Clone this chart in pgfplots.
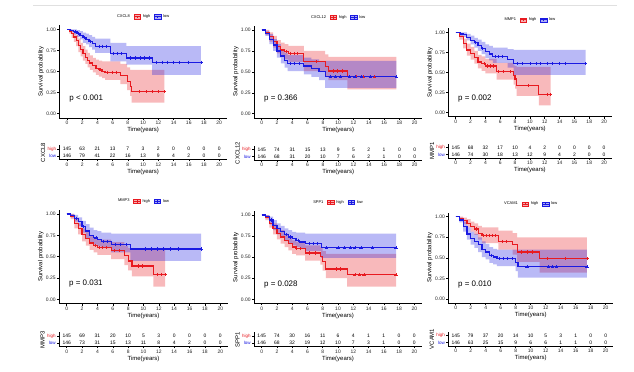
\documentclass[border=0pt]{standalone}
\usepackage{fontspec}
\setmainfont{Liberation Sans}
\usepackage{pgfplots}
\pgfplotsset{compat=1.18}
\usepackage{pgfplotstable}
\definecolor{kmred}{RGB}{232,26,32}
\definecolor{kmblue}{RGB}{26,26,226}
\newcommand\fs[1]{\fontsize{#1}{#1}\selectfont}
\tikzset{pval/.style={anchor=west, font=\fs{8}, inner sep=0pt}}

\pgfplotsset{
  base/.style={scale only axis, anchor=south west,
    xmin=-1, xmax=21, xtick={0,2,...,20},
    axis x line*=bottom, axis y line*=left,
    axis line style={-, black, line width=0.5bp},
    tick align=outside, major tick length=2bp, tick style={black, line width=0.5bp},
    /pgf/number format/assume math mode=true,
    ticklabel style={font=\fs{5}, text=black!85, inner sep=1.2bp},
    label style={font=\fs{6}, text=black},
    xlabel={Time(years)}, xlabel style={inner sep=1bp},
    ylabel style={inner sep=1bp}},
  km/.style={base, ymin=-0.05, ymax=1.05, ytick={0,0.25,0.5,0.75,1},
    yticklabel style={/pgf/number format/.cd, fixed, fixed zerofill, precision=2},
    ylabel={Survival probability},
    legend style={draw=none, fill=none, at={(0.5,1)}, anchor=south, yshift=4bp,
      legend columns=-1, font=\fs{4}, inner sep=0pt, cells={anchor=west},
      /tikz/every even column/.append style={column sep=1.5bp}}},
  rt/.style={base, height=14bp, ymin=0.5, ymax=2.5, ytick={1,2},
    yticklabels={\color{kmblue}low,\color{kmred}high},
    yticklabel style={font=\fs{4.5}}},
  rtnum/.style={only marks, mark=*, mark size=0pt, mark options={draw=none,fill=none},
    nodes near coords, point meta=explicit symbolic, forget plot,
    every node near coord/.append style={font=\fs{5}, anchor=center, text=black}},
  redkey/.style={legend image code/.code={
    \fill[kmred, fill opacity=0.35] (0bp,-2.2bp) rectangle (6.5bp,2.2bp);
    \draw[kmred, line width=0.9bp] (0bp,0bp) -- (6.5bp,0bp);
    \draw[kmred, line width=0.4bp] (3.25bp,-1.2bp) -- (3.25bp,1.2bp);}},
  bluekey/.style={legend image code/.code={
    \fill[kmblue, fill opacity=0.35] (0bp,-2.2bp) rectangle (6.5bp,2.2bp);
    \draw[kmblue, line width=0.9bp] (0bp,0bp) -- (6.5bp,0bp);
    \draw[kmblue, line width=0.4bp] (3.25bp,-1.2bp) -- (3.25bp,1.2bp);}}
}

% band: upper limit forward, lower limit backward (step polygon)
\newcommand\band[2]{\addplot[const plot, fill=#1, fill opacity=0.3, draw=none, forget plot] coordinates {#2};}
\newcommand\curve[2]{\addplot[const plot, #1, line width=1.2bp, forget plot] coordinates {#2};}
\newcommand\cens[2]{\addplot[only marks, mark=+, mark size=1.6bp, #1, line width=0.6bp, forget plot] coordinates {#2};}
\newcommand\kmlegend[1]{%
  \addlegendimage{empty legend}\addlegendentry{#1}
  \addlegendimage{redkey}\addlegendentry{high}
  \addlegendimage{bluekey}\addlegendentry{low}
}

\pgfplotstableread{
t h l
0 145 146
2 63 79
4 21 41
6 13 22
8 7 16
10 3 13
12 2 9
14 0 4
16 0 2
18 0 0
20 0 0
}\PaR
\pgfplotstableread{
t h l
0 145 146
2 74 68
4 31 31
6 15 20
8 13 10
10 9 7
12 5 6
14 2 2
16 1 1
18 0 0
20 0 0
}\PbR
\pgfplotstableread{
t h l
0 145 146
2 68 74
4 32 30
6 17 18
8 10 13
10 4 12
12 2 9
14 0 4
16 0 2
18 0 0
20 0 0
}\PcR
\pgfplotstableread{
t h l
0 145 146
2 69 73
4 31 31
6 20 15
8 10 13
10 5 11
12 3 8
14 0 4
16 0 2
18 0 0
20 0 0
}\PdR
\pgfplotstableread{
t h l
0 145 146
2 74 68
4 30 32
6 16 19
8 11 12
10 6 10
12 4 7
14 1 3
16 1 1
18 0 0
20 0 0
}\PeR
\pgfplotstableread{
t h l
0 145 146
2 79 63
4 37 25
6 20 15
8 14 9
10 10 6
12 5 6
14 3 1
16 1 1
18 0 0
20 0 0
}\PfR

\begin{document}
\begin{tikzpicture}
\path[use as bounding box] (0,0) rectangle (634bp,372bp);
\fill[white] (0,0) rectangle (634bp,372bp);
\draw[black!12, line width=0.8bp] (33bp,367bp) -- (617bp,367bp);

% ===== CXCL8 =====
\begin{axis}[km, at={(59.4bp,254.1bp)}, width=167.4bp, height=92.8bp]
\band{kmred}{(0,1)(0.3,1)(0.6,0.99)(0.9,0.96)(1.2,0.93)(1.5,0.89)(1.8,0.84)(2.1,0.80)(2.4,0.76)(2.7,0.72)(3.0,0.69)(3.4,0.66)(3.8,0.64)(4.2,0.63)(4.6,0.62)(5.0,0.62)(7.0,0.59)(7.9,0.55)(8.3,0.52)(8.5,0.52)(12.8,0.52)
 (12.8,0.13)(8.5,0.21)(8.3,0.28)(7.9,0.35)(7.0,0.40)(5.0,0.42)(4.6,0.44)(4.2,0.46)(3.8,0.49)(3.4,0.52)(3.0,0.55)(2.7,0.59)(2.4,0.63)(2.1,0.68)(1.8,0.73)(1.5,0.80)(1.2,0.85)(0.9,0.90)(0.6,0.95)(0.3,1)(0,1)}
\band{kmblue}{(0,1)(0.5,1)(0.9,1)(1.3,0.99)(1.7,0.98)(2.1,0.96)(2.5,0.95)(2.9,0.93)(3.3,0.91)(3.7,0.89)(5.7,0.84)(7.8,0.80)(11.2,0.80)(17.6,0.80)
 (17.6,0.46)(11.2,0.58)(7.8,0.62)(5.7,0.72)(3.7,0.76)(3.3,0.79)(2.9,0.82)(2.5,0.84)(2.1,0.88)(1.7,0.91)(1.3,0.94)(0.9,0.97)(0.5,1)(0,1)}
\curve{kmred}{(0,1)(0.3,0.98)(0.6,0.95)(0.9,0.91)(1.2,0.87)(1.5,0.81)(1.8,0.76)(2.1,0.71)(2.4,0.67)(2.7,0.63)(3.0,0.60)(3.4,0.57)(3.8,0.54)(4.2,0.52)(4.6,0.50)(5.0,0.49)(7.0,0.45)(7.9,0.38)(8.3,0.32)(8.5,0.26)(12.8,0.26)}
\curve{kmblue}{(0,1)(0.5,0.99)(0.9,0.97)(1.3,0.95)(1.7,0.93)(2.1,0.90)(2.5,0.88)(2.9,0.86)(3.3,0.83)(3.7,0.80)(5.7,0.71)(7.8,0.66)(11.2,0.61)(17.6,0.61)}
\cens{kmred}{(4.4,0.52)(5.3,0.49)(5.9,0.49)(6.5,0.49)(9.5,0.26)(10.4,0.26)(11.2,0.26)(12.0,0.26)(12.8,0.26)}
\cens{kmblue}{(1.1,0.97)(1.5,0.95)(2.3,0.90)(3.1,0.86)(4.2,0.80)(4.7,0.80)(5.2,0.80)(6.1,0.71)(6.6,0.71)(7.2,0.71)(8.3,0.66)(9.0,0.66)(9.6,0.66)(10.2,0.66)(10.8,0.66)(11.8,0.61)(12.5,0.61)(13.2,0.61)(14.0,0.61)(14.7,0.61)(16.0,0.61)(17.6,0.61)}
\kmlegend{CXCL8}
\node[pval] at (axis cs:0.3,0.18) {p < 0.001};
\end{axis}
\begin{axis}[rt, at={(59.4bp,212.5bp)}, width=167.4bp, ylabel={CXCL8}]
\addplot[rtnum] table[x=t, y expr=2, meta=h] {\PaR};
\addplot[rtnum] table[x=t, y expr=1, meta=l] {\PaR};
\end{axis}

% ===== CXCL12 =====
\begin{axis}[km, at={(254bp,254.1bp)}, width=168.4bp, height=92.1bp]
\band{kmred}{(0,1)(0.5,1)(1,0.97)(1.5,0.93)(2,0.88)(2.5,0.85)(3,0.83)(3.5,0.81)(5.5,0.75)(8.3,0.71)(8.7,0.68)(11.2,0.68)(17.6,0.68)
 (17.6,0.29)(11.2,0.40)(8.7,0.44)(8.3,0.51)(5.5,0.62)(3.5,0.65)(3,0.68)(2.5,0.72)(2,0.79)(1.5,0.86)(1,0.94)(0.5,1)(0,1)}
\band{kmblue}{(0,1)(0.5,0.99)(1,0.95)(1.5,0.89)(2,0.83)(2.5,0.77)(3,0.73)(3.4,0.70)(5.5,0.67)(6.5,0.65)(7.5,0.63)(8.3,0.63)(17.6,0.63)
 (17.6,0.31)(8.3,0.40)(7.5,0.44)(6.5,0.47)(5.5,0.51)(3.4,0.55)(3,0.60)(2.5,0.67)(2,0.75)(1.5,0.83)(1,0.93)(0.5,1)(0,1)}
\curve{kmred}{(0,1)(0.5,0.97)(1,0.92)(1.5,0.86)(2,0.80)(2.5,0.76)(3,0.74)(3.5,0.72)(5.5,0.62)(8.3,0.56)(8.7,0.51)(11.2,0.44)(17.6,0.44)}
\curve{kmblue}{(0,1)(0.5,0.96)(1,0.89)(1.5,0.82)(2,0.75)(2.5,0.69)(3,0.64)(3.4,0.60)(5.5,0.57)(6.5,0.54)(7.5,0.50)(8.3,0.44)(17.6,0.44)}
\cens{kmred}{(3.2,0.74)(3.8,0.72)(4.2,0.72)(4.7,0.72)(7.2,0.62)(9.3,0.51)(9.9,0.51)(10.5,0.51)(12.3,0.44)(13.3,0.44)(14.7,0.44)}
\cens{kmblue}{(3.8,0.60)(4.3,0.60)(4.9,0.60)(9.0,0.44)(9.6,0.44)(10.3,0.44)(11.5,0.44)(12.2,0.44)(13.0,0.44)(14.2,0.44)(17.6,0.44)}
\kmlegend{CXCL12}
\node[pval] at (axis cs:0.3,0.18) {p = 0.366};
\end{axis}
\begin{axis}[rt, at={(254bp,212bp)}, width=168.4bp, ylabel={CXCL12}]
\addplot[rtnum] table[x=t, y expr=2, meta=h] {\PbR};
\addplot[rtnum] table[x=t, y expr=1, meta=l] {\PbR};
\end{axis}

% ===== MMP1 =====
\begin{axis}[km, at={(448.3bp,255.3bp)}, width=163.2bp, height=88.4bp]
\band{kmred}{(0,1)(0.5,0.99)(1,0.92)(1.5,0.86)(2,0.82)(2.5,0.77)(3,0.72)(3.5,0.70)(4,0.67)(5.5,0.62)(7.8,0.59)(8,0.58)(8.2,0.57)(11.2,0.57)(12.8,0.57)
 (12.8,0.09)(11.2,0.21)(8.2,0.30)(8,0.35)(7.8,0.41)(5.5,0.49)(4,0.52)(3.5,0.55)(3,0.61)(2.5,0.66)(2,0.71)(1.5,0.80)(1,0.91)(0.5,1)(0,1)}
\band{kmblue}{(0,1)(0.6,1)(1,1)(1.5,0.98)(2,0.96)(2.5,0.93)(3,0.91)(3.5,0.88)(4,0.85)(4.5,0.83)(5,0.81)(7,0.79)(7.8,0.78)(17.5,0.78)
 (17.5,0.47)(7.8,0.56)(7,0.62)(5,0.65)(4.5,0.68)(4,0.73)(3.5,0.77)(3,0.81)(2.5,0.85)(2,0.90)(1.5,0.94)(1,0.96)(0.6,1)(0,1)}
\curve{kmred}{(0,1)(0.5,0.95)(1,0.86)(1.5,0.78)(2,0.74)(2.5,0.69)(3,0.63)(3.5,0.61)(4,0.58)(5.5,0.51)(7.8,0.46)(8,0.42)(8.2,0.34)(11.2,0.23)(12.8,0.23)}
\curve{kmblue}{(0,1)(0.6,0.98)(1,0.97)(1.5,0.94)(2,0.90)(2.5,0.87)(3,0.84)(3.5,0.80)(4,0.76)(4.5,0.73)(5,0.70)(7,0.66)(7.8,0.61)(17.5,0.61)}
\cens{kmred}{(3.8,0.61)(4.2,0.58)(4.6,0.58)(5.0,0.58)(5.8,0.51)(6.4,0.51)(7.3,0.51)(9.8,0.34)(12.3,0.23)(12.8,0.23)}
\cens{kmblue}{(2.7,0.87)(3.6,0.80)(5.3,0.70)(5.8,0.70)(6.3,0.70)(8.3,0.61)(9.0,0.61)(10.0,0.61)(10.8,0.61)(11.4,0.61)(12.3,0.61)(13.0,0.61)(14.0,0.61)(14.8,0.61)(17.5,0.61)}
\kmlegend{MMP1}
\node[pval] at (axis cs:0.3,0.18) {p = 0.002};
\end{axis}
\begin{axis}[rt, at={(448.3bp,214bp)}, width=163.2bp, ylabel={MMP1}]
\addplot[rtnum] table[x=t, y expr=2, meta=h] {\PcR};
\addplot[rtnum] table[x=t, y expr=1, meta=l] {\PcR};
\end{axis}

% ===== MMP3 =====
\begin{axis}[km, at={(59bp,68.4bp)}, width=169bp, height=93.9bp]
\band{kmred}{(0,1)(0.5,1)(1,0.94)(1.5,0.89)(2,0.83)(2.5,0.79)(3,0.74)(3.5,0.72)(4,0.70)(5.8,0.67)(7.5,0.63)(8,0.60)(8.5,0.58)(11.3,0.58)(12.8,0.58)
 (12.8,0.15)(11.3,0.27)(8.5,0.34)(8,0.40)(7.5,0.47)(5.8,0.52)(4,0.55)(3.5,0.58)(3,0.63)(2.5,0.68)(2,0.76)(1.5,0.83)(1,0.94)(0.5,1)(0,1)}
\band{kmblue}{(0,1)(0.5,1)(1,0.99)(1.5,0.96)(2,0.92)(2.5,0.88)(3,0.84)(3.5,0.81)(4,0.80)(4.5,0.78)(5.8,0.77)(8.3,0.77)(17.5,0.77)
 (17.5,0.45)(8.3,0.55)(5.8,0.60)(4.5,0.62)(4,0.64)(3.5,0.67)(3,0.72)(2.5,0.78)(2,0.86)(1.5,0.91)(1,0.96)(0.5,1)(0,1)}
\curve{kmred}{(0,1)(0.5,0.97)(1,0.89)(1.5,0.83)(2,0.76)(2.5,0.71)(3,0.66)(3.5,0.63)(4,0.61)(5.8,0.57)(7.5,0.51)(8,0.45)(8.5,0.39)(11.3,0.29)(12.8,0.29)}
\curve{kmblue}{(0,1)(0.5,0.98)(1,0.95)(1.5,0.91)(2,0.85)(2.5,0.80)(3,0.75)(3.5,0.72)(4,0.70)(4.5,0.68)(5.8,0.64)(8.3,0.59)(17.5,0.59)}
\cens{kmred}{(3.7,0.63)(4.2,0.61)(4.6,0.61)(5.2,0.61)(6.2,0.57)(6.8,0.57)(9.3,0.39)(9.9,0.39)(11.8,0.29)(12.3,0.29)(12.8,0.29)}
\cens{kmblue}{(1.2,0.95)(2.2,0.85)(3.8,0.72)(4.8,0.68)(5.3,0.68)(6.3,0.64)(7.0,0.64)(7.7,0.64)(10.2,0.59)(11.0,0.59)(11.8,0.59)(12.6,0.59)(13.5,0.59)(14.5,0.59)(17.5,0.59)}
\kmlegend{MMP3}
\node[pval] at (axis cs:0.3,0.18) {p = 0.031};
\end{axis}
\begin{axis}[rt, at={(59bp,25.5bp)}, width=169bp, ylabel={MMP3}]
\addplot[rtnum] table[x=t, y expr=2, meta=h] {\PdR};
\addplot[rtnum] table[x=t, y expr=1, meta=l] {\PdR};
\end{axis}

% ===== SPP1 =====
\begin{axis}[km, at={(254bp,68.5bp)}, width=168bp, height=92.7bp]
\band{kmred}{(0,1)(0.5,1)(1,0.95)(1.5,0.90)(2,0.85)(2.5,0.82)(3,0.78)(3.5,0.74)(4,0.70)(4.5,0.68)(5.7,0.64)(7.7,0.62)(8,0.57)(8.4,0.54)(11.2,0.54)(17.6,0.54)
 (17.6,0.15)(11.2,0.25)(8.4,0.34)(8,0.41)(7.7,0.46)(5.7,0.52)(4.5,0.54)(4,0.58)(3.5,0.62)(3,0.66)(2.5,0.71)(2,0.77)(1.5,0.85)(1,0.94)(0.5,1)(0,1)}
\band{kmblue}{(0,1)(0.5,1)(1,0.98)(1.5,0.94)(2,0.90)(2.5,0.87)(3,0.84)(3.5,0.82)(4,0.80)(4.5,0.79)(5,0.79)(5.7,0.78)(7.8,0.78)(17.6,0.78)
 (17.6,0.49)(7.8,0.57)(5.7,0.60)(5,0.62)(4.5,0.64)(4,0.66)(3.5,0.69)(3,0.73)(2.5,0.77)(2,0.82)(1.5,0.89)(1,0.96)(0.5,1)(0,1)}
\curve{kmred}{(0,1)(0.5,0.97)(1,0.90)(1.5,0.84)(2,0.78)(2.5,0.74)(3,0.70)(3.5,0.66)(4,0.62)(4.5,0.60)(5.7,0.55)(7.7,0.51)(8,0.45)(8.4,0.36)(11.2,0.29)(17.6,0.29)}
\curve{kmblue}{(0,1)(0.5,0.98)(1,0.94)(1.5,0.88)(2,0.84)(2.5,0.80)(3,0.77)(3.5,0.74)(4,0.72)(4.5,0.70)(5,0.68)(5.7,0.66)(7.8,0.61)(17.6,0.61)}
\cens{kmred}{(4.6,0.60)(5.0,0.60)(6.2,0.55)(7.0,0.55)(9.8,0.36)(10.3,0.36)(12.2,0.29)(12.8,0.29)(13.4,0.29)(17.6,0.29)}
\cens{kmblue}{(1.3,0.94)(3.2,0.77)(3.8,0.74)(4.8,0.70)(6.3,0.66)(6.8,0.66)(7.3,0.66)(8.5,0.61)(10.0,0.61)(10.8,0.61)(11.6,0.61)(12.2,0.61)(13.0,0.61)(14.5,0.61)(17.6,0.61)}
\kmlegend{SPP1}
\node[pval] at (axis cs:0.3,0.18) {p = 0.028};
\end{axis}
\begin{axis}[rt, at={(254bp,25.5bp)}, width=168bp, ylabel={SPP1}]
\addplot[rtnum] table[x=t, y expr=2, meta=h] {\PeR};
\addplot[rtnum] table[x=t, y expr=1, meta=l] {\PeR};
\end{axis}

% ===== VCAM1 =====
\begin{axis}[km, at={(448.2bp,68.9bp)}, width=165bp, height=90.5bp]
\band{kmred}{(0,1)(0.5,1)(1,0.99)(1.5,0.97)(2,0.94)(2.5,0.92)(3,0.89)(3.5,0.87)(5.7,0.83)(7.6,0.80)(8.2,0.75)(11.2,0.75)(17.5,0.75)
 (17.5,0.32)(11.2,0.45)(8.2,0.54)(7.6,0.60)(5.7,0.68)(3.5,0.72)(3,0.78)(2.5,0.82)(2,0.87)(1.5,0.91)(1,0.96)(0.5,1)(0,1)}
\band{kmblue}{(0,1)(0.5,0.99)(1,0.94)(1.5,0.87)(2,0.82)(2.5,0.79)(3,0.75)(3.5,0.70)(4,0.67)(4.5,0.63)(5,0.61)(5.5,0.60)(8,0.60)(8.3,0.60)(17.5,0.60)
 (17.5,0.26)(8.3,0.34)(8,0.40)(5.5,0.42)(5,0.44)(4.5,0.48)(4,0.51)(3.5,0.57)(3,0.62)(2.5,0.66)(2,0.72)(1.5,0.82)(1,0.93)(0.5,1)(0,1)}
\curve{kmred}{(0,1)(0.5,0.98)(1,0.95)(1.5,0.92)(2,0.88)(2.5,0.85)(3,0.80)(3.5,0.77)(5.7,0.70)(7.6,0.66)(8.2,0.57)(11.2,0.49)(17.5,0.49)}
\curve{kmblue}{(0,1)(0.5,0.96)(1,0.88)(1.5,0.79)(2,0.74)(2.5,0.70)(3,0.66)(3.5,0.60)(4,0.57)(4.5,0.53)(5,0.51)(5.5,0.49)(8,0.44)(8.3,0.39)(17.5,0.39)}
\cens{kmred}{(2.8,0.85)(3.7,0.77)(4.1,0.77)(4.5,0.77)(4.9,0.77)(5.3,0.77)(6.2,0.70)(6.8,0.70)(8.8,0.57)(9.5,0.57)(10.2,0.57)(12.2,0.49)(14.6,0.49)(17.5,0.49)}
\cens{kmblue}{(4.7,0.53)(5.8,0.49)(6.3,0.49)(6.9,0.49)(7.5,0.49)(9.5,0.39)(12.4,0.39)(12.9,0.39)(13.4,0.39)(17.5,0.39)}
\kmlegend{VCAM1}
\node[pval] at (axis cs:0.3,0.18) {p = 0.010};
\end{axis}
\begin{axis}[rt, at={(448.2bp,26bp)}, width=165bp, ylabel={VCAM1}]
\addplot[rtnum] table[x=t, y expr=2, meta=h] {\PfR};
\addplot[rtnum] table[x=t, y expr=1, meta=l] {\PfR};
\end{axis}
\end{tikzpicture}
\end{document}
